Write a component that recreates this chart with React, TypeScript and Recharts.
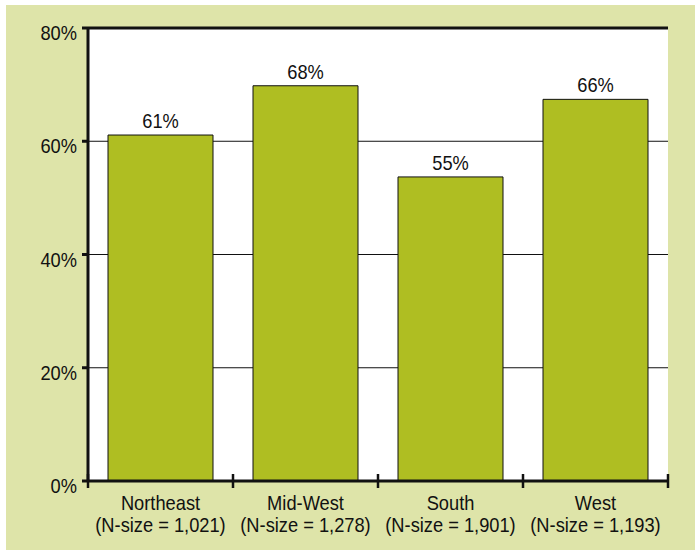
import { Bar, BarChart, CartesianGrid, LabelList, ReferenceLine, XAxis, YAxis } from "recharts";

const FONT = "'Liberation Sans', Arial, sans-serif";
const PAGE = "#dee4a9";
const BAR = "#afbe22";
const INK = "#111111";

const regions = ["Northeast", "Mid-West", "South", "West"];
const sampleSizes = ["(N-size = 1,021)", "(N-size = 1,278)", "(N-size = 1,901)", "(N-size = 1,193)"];
// bar heights as drawn in the picture, and the printed labels above them
const barHeights = [61.1, 69.8, 53.7, 67.4];
const barLabels = ["61%", "68%", "55%", "66%"];
const yTicks = [0, 20, 40, 60, 80];

const data = regions.map((region, i) => ({
  region,
  pos: i + 0.5,
  value: barHeights[i],
  label: barLabels[i],
}));

const xTicks = [0, 0.5, 1, 1.5, 2, 2.5, 3, 3.5, 4];

// condensed look: regular sans squeezed horizontally
function Narrow({ x, y, anchor, children }: any) {
  return (
    <text
      transform={`translate(${x},${y}) scale(0.87,1)`}
      textAnchor={anchor}
      fontFamily={FONT}
      fontSize={21}
      fill={INK}
    >
      {children}
    </text>
  );
}

function RegionTick(props: any) {
  const { x, y, payload } = props;
  const v = payload.value;
  if (Number.isInteger(v)) {
    return <line x1={x} x2={x} y1={y - 7} y2={y + 7} stroke={INK} strokeWidth={2.5} />;
  }
  const i = Math.floor(v);
  return (
    <g>
      <Narrow x={x} y={y + 29} anchor="middle">{regions[i]}</Narrow>
      <Narrow x={x} y={y + 51} anchor="middle">{sampleSizes[i]}</Narrow>
    </g>
  );
}

function PercentTick(props: any) {
  const { x, y, payload } = props;
  return <Narrow x={x} y={y + 12} anchor="end">{`${payload.value}%`}</Narrow>;
}

function TopLabel(props: any) {
  const { x, y, width, value } = props;
  return <Narrow x={x + width / 2} y={y - 7} anchor="middle">{value}</Narrow>;
}

export default function App() {
  return (
    <div style={{ position: "absolute", left: 0, top: 0, width: 695, height: 552, background: "#fff" }}>
      <div style={{ position: "absolute", left: 6, top: 5, width: 689, height: 545, background: PAGE }} />
      <div style={{ position: "absolute", left: 88, top: 28, width: 580, height: 453, background: "#fff" }} />
      <div style={{ position: "absolute", left: 0, top: 0 }}>
        <BarChart
          width={695}
          height={552}
          data={data}
          margin={{ top: 28, right: 27, bottom: 0, left: 0 }}
        >
          <CartesianGrid horizontal vertical={false} stroke={INK} strokeWidth={1} />
          <XAxis
            dataKey="pos"
            type="number"
            domain={[0, 4]}
            ticks={xTicks}
            interval={0}
            height={71}
            tickSize={0}
            tickMargin={0}
            tickLine={false}
            tick={<RegionTick />}
            axisLine={{ stroke: INK, strokeWidth: 3 }}
          />
          <YAxis
            domain={[0, 80]}
            ticks={yTicks}
            width={88}
            tickSize={6}
            tickMargin={5}
            tick={<PercentTick />}
            tickLine={{ stroke: INK, strokeWidth: 3 }}
            axisLine={{ stroke: INK, strokeWidth: 3 }}
          />
          <ReferenceLine y={80} stroke={INK} strokeWidth={3} />
          <Bar dataKey="value" barSize={105} fill={BAR} stroke={INK} strokeWidth={1} isAnimationActive={false}>
            <LabelList dataKey="label" content={<TopLabel />} />
          </Bar>
        </BarChart>
      </div>
    </div>
  );
}
